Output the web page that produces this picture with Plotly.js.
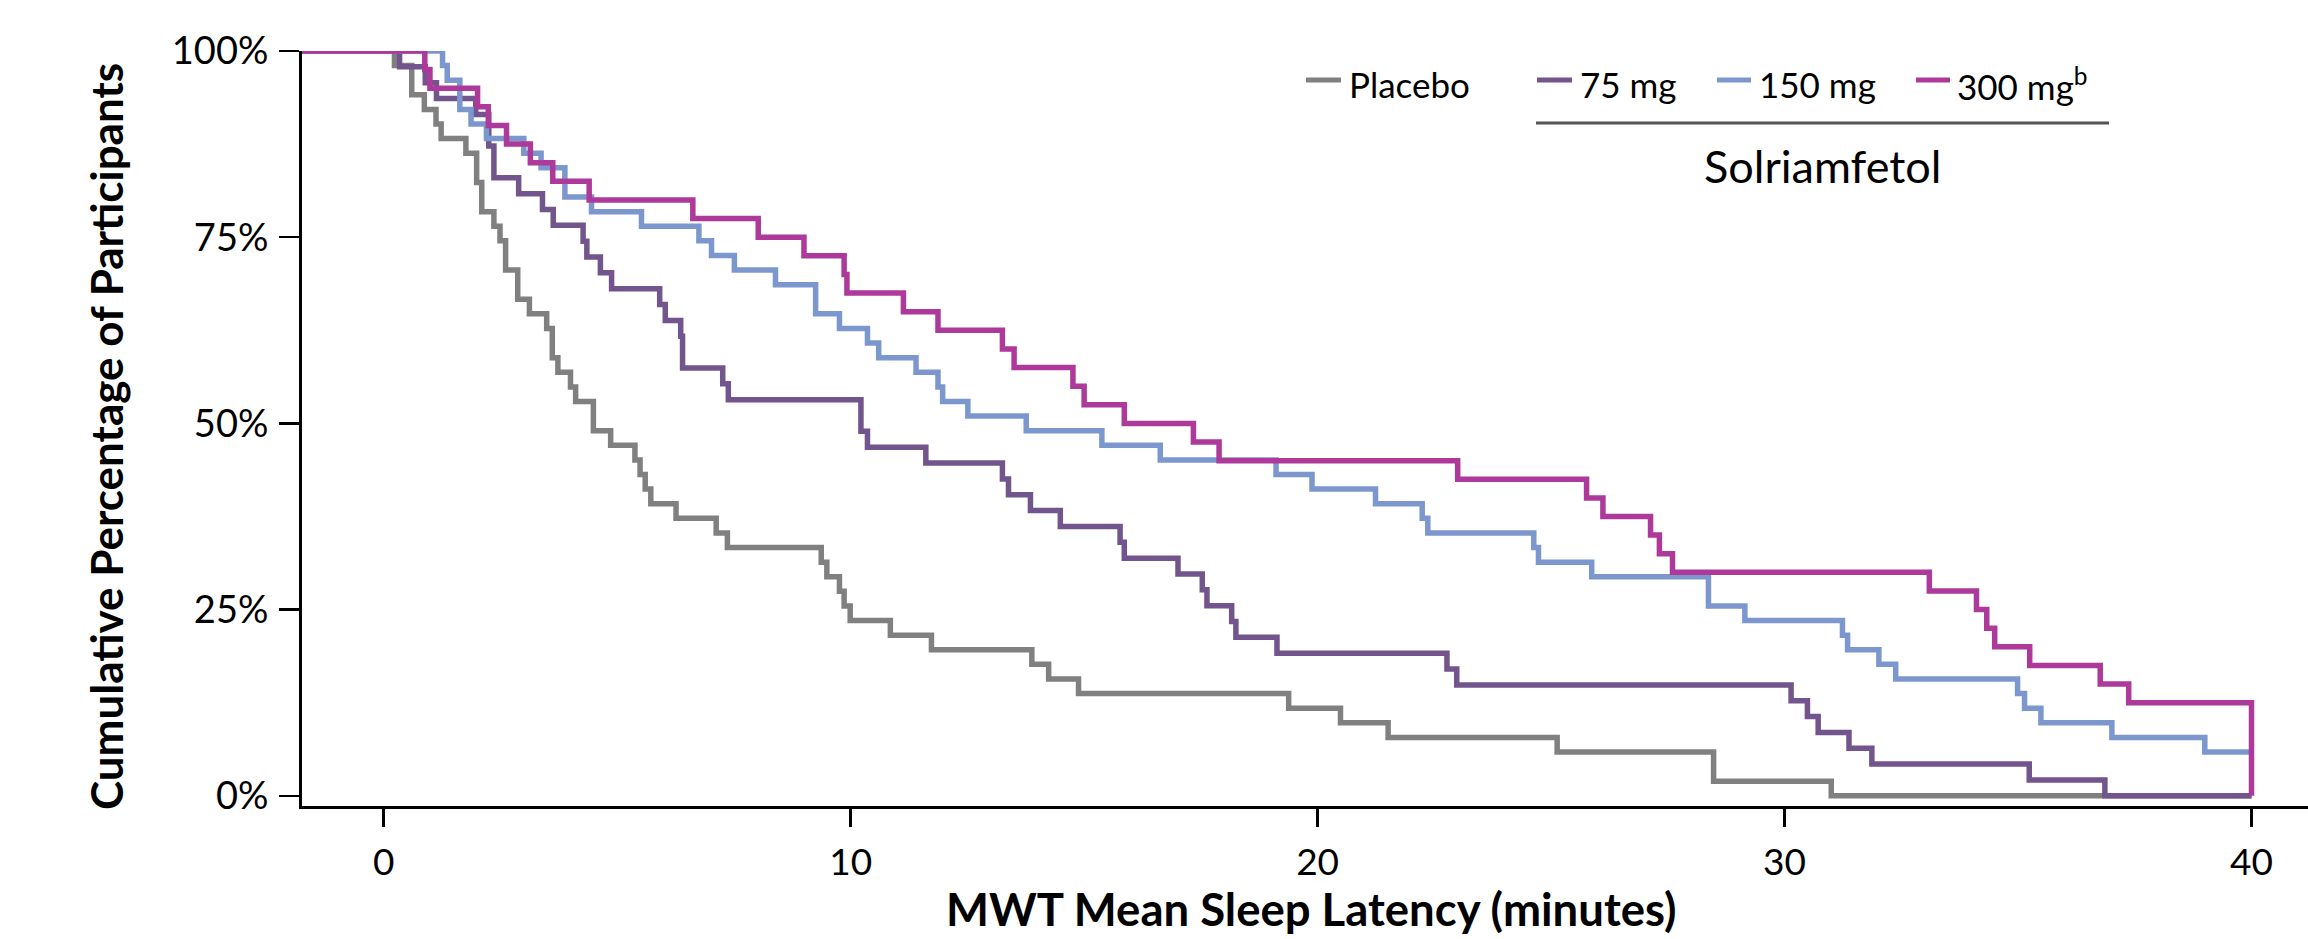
<!DOCTYPE html>
<html>
<head>
<meta charset="utf-8">
<script src="https://cdn.plot.ly/plotly-3.0.1.min.js"></script>
<style>html,body{margin:0;padding:0;background:#fff;}#chart{width:2308px;height:939px;}</style>
</head>
<body>
<div id="chart"></div>
<script>
// ---------------- DATA ----------------
const seriesNames = ["Placebo", "75 mg", "150 mg", "300 mg"];

const placeboTimes = [0.23,0.60,0.87,1.12,1.23,1.76,1.99,2.10,2.36,2.49,2.61,2.87,3.12,3.49,3.61,3.73,4.00,4.11,4.49,4.86,5.38,5.49,5.60,5.72,6.26,7.12,7.36,9.37,9.49,9.76,9.86,9.99,10.85,11.73,13.88,14.24,14.88,19.38,20.49,21.51,25.13,28.48,31.00,40.00];
const placeboPct   = [98.04,94.12,92.16,90.20,88.24,86.27,82.35,78.43,76.47,74.51,70.59,66.67,64.71,62.75,58.82,56.86,54.90,52.94,49.02,47.06,45.10,43.14,41.18,39.22,37.25,35.29,33.33,31.37,29.41,27.45,25.49,23.53,21.57,19.61,17.65,15.69,13.73,11.76,9.80,7.84,5.88,1.96,0,0];

const mg75Times = [0.34,0.89,1.13,1.97,2.25,2.36,2.89,3.40,3.63,4.27,4.35,4.64,4.88,5.91,6.03,6.36,6.40,7.26,7.38,10.22,10.36,11.61,13.25,13.38,13.85,14.49,15.77,15.86,17.01,17.53,17.63,18.16,18.25,19.13,22.77,22.98,30.14,30.49,30.72,31.38,31.87,35.24,36.86,40.00];
const mg75Pct   = [97.87,95.74,93.62,91.49,87.23,82.98,80.85,78.72,76.60,74.47,72.34,70.21,68.09,65.96,63.83,61.70,57.45,55.32,53.19,48.94,46.81,44.68,42.55,40.43,38.30,36.17,34.04,31.91,29.79,27.66,25.53,23.40,21.28,19.15,17.02,14.89,12.77,10.64,8.51,6.38,4.26,2.13,0,0];

const mg150Times = [1.26,1.36,1.63,1.87,2.20,3.00,3.37,3.88,4.45,5.52,6.75,7.02,7.51,8.39,9.25,9.76,10.36,10.60,11.40,11.87,11.97,12.51,13.76,15.38,16.63,19.11,19.88,21.24,22.24,22.36,24.63,24.73,25.87,28.37,29.15,31.24,31.35,32.02,32.38,34.99,35.14,35.49,37.01,39.00,40.00];
const mg150Pct   = [98.04,96.08,92.16,90.20,88.24,86.27,84.31,80.39,78.43,76.47,74.51,72.55,70.59,68.63,64.71,62.75,60.78,58.82,56.86,54.90,52.94,50.98,49.02,47.06,45.10,43.14,41.18,39.22,37.25,35.29,33.33,31.37,29.41,25.49,23.53,21.57,19.61,17.65,15.69,13.73,11.76,9.80,7.84,5.88,5.88];

const mg300Times = [0.88,0.99,2.01,2.24,2.63,3.14,3.62,4.40,6.62,8.02,9.00,9.86,9.92,11.13,11.87,13.25,13.50,14.76,15.00,15.86,17.34,17.89,23.00,25.76,26.11,27.13,27.32,27.60,33.10,34.11,34.33,34.50,35.25,36.76,37.37,40.00];
const mg300Pct   = [97.5,95.0,92.5,90.0,87.5,85.0,82.5,80.0,77.5,75.0,72.5,70.0,67.5,65.0,62.5,60.0,57.5,55.0,52.5,50.0,47.5,45.0,42.5,40.0,37.5,35.0,32.5,30.0,27.5,25.0,22.5,20.0,17.5,15.0,12.5,0];

const xTickVals = [0, 10, 20, 30, 40];
const xTickText = ["0", "10", "20", "30", "40"];
const yTickVals = [0, 25, 50, 75, 100];
const yTickText = ["0%", "25%", "50%", "75%", "100%"];

const xTitle = "MWT Mean Sleep Latency (minutes)";
const yTitle = "Cumulative Percentage of Participants";
const groupLabel = "Solriamfetol";

// ---------------- STYLE / LAYOUT ----------------
const colors = ["#808080", "#71558c", "#7c97cd", "#ad399b"];
const W = 2308, H = 939;
const ML = 302, MR = 0, MT = 51, MB = 133;
const PW = W - ML - MR, PH = H - MT - MB;
const X_MIN = -1.75, X_MAX = 41.21;
const Y_MIN = -1.37, Y_MAX = 100;
const FONT = "Lato, 'Liberation Sans', Arial, sans-serif";

const px2x = p => (p - ML) / PW;
const py2y = p => (H - MB - p) / PH;

const allTimes = [placeboTimes, mg75Times, mg150Times, mg300Times];
const allPct = [placeboPct, mg75Pct, mg150Pct, mg300Pct];

const traces = allTimes.map((t, i) => ({
  type: "scatter",
  mode: "lines",
  name: seriesNames[i],
  x: [X_MIN].concat(t),
  y: [100].concat(allPct[i]),
  line: { shape: "hv", color: colors[i], width: 5.5 },
  cliponaxis: false,
  showlegend: false,
  hoverinfo: "x+y+name"
}));

// custom legend
const legendItems = [
  { x0: 1306, x1: 1341, tx: 1347, label: "Placebo" },
  { x0: 1537, x1: 1572, tx: 1578, label: "75 mg" },
  { x0: 1717, x1: 1751, tx: 1757, label: "150 mg" },
  { x0: 1916, x1: 1950, tx: 1955, label: "300 mg<sup>b</sup>" }
];
const legendY = 80;

const shapes = legendItems.map((it, i) => ({
  type: "line", xref: "paper", yref: "paper",
  x0: px2x(it.x0), x1: px2x(it.x1), y0: py2y(legendY), y1: py2y(legendY),
  line: { color: colors[i], width: 5 }
}));
shapes.push({
  type: "line", xref: "paper", yref: "paper",
  x0: px2x(1536), x1: px2x(2109), y0: py2y(123), y1: py2y(123),
  line: { color: "#555555", width: 3 }
});

const annotations = legendItems.map(it => ({
  xref: "paper", yref: "paper", x: px2x(it.tx), y: py2y(84),
  xanchor: "left", yanchor: "middle", showarrow: false,
  text: it.label, font: { family: FONT, size: 35, color: "#000" }
}));
annotations.push({
  xref: "paper", yref: "paper", x: px2x(1822), y: py2y(166),
  xanchor: "center", yanchor: "middle", showarrow: false,
  text: groupLabel, font: { family: FONT, size: 45, color: "#000" }
});
annotations.push({
  xref: "paper", yref: "paper", x: px2x(106), y: py2y(437),
  xanchor: "center", yanchor: "middle", showarrow: false, textangle: -90,
  text: yTitle, font: { family: FONT, size: 44, weight: 700, color: "#000" }
});
annotations.push({
  xref: "paper", yref: "paper", x: px2x(1311), y: py2y(938),
  xanchor: "center", yanchor: "bottom", showarrow: false,
  text: xTitle, font: { family: FONT, size: 45.5, weight: 700, color: "#000" }
});

const layout = {
  width: W, height: H,
  margin: { l: ML, r: MR, t: MT, b: MB, pad: 0 },
  paper_bgcolor: "#fff", plot_bgcolor: "#fff",
  showlegend: false,
  font: { family: FONT, color: "#000" },
  xaxis: {
    range: [X_MIN, X_MAX], showgrid: false, zeroline: false,
    showline: true, linecolor: "#000", linewidth: 3,
    ticks: "outside", ticklen: 18, tickwidth: 2.5, tickcolor: "#000",
    tickvals: xTickVals, ticktext: xTickText,
    tickfont: { family: FONT, size: 37, color: "#000" },
    ticklabelstandoff: 4
  },
  yaxis: {
    range: [Y_MIN, Y_MAX], showgrid: false, zeroline: false,
    showline: true, linecolor: "#000", linewidth: 3,
    ticks: "outside", ticklen: 20, tickwidth: 2.5, tickcolor: "#000",
    tickvals: yTickVals, ticktext: yTickText,
    tickfont: { family: FONT, size: 38, color: "#000" },
    ticklabelstandoff: 3
  },
  shapes: shapes,
  annotations: annotations
};

Plotly.newPlot("chart", traces, layout, { displayModeBar: false, staticPlot: true });
</script>
</body>
</html>
